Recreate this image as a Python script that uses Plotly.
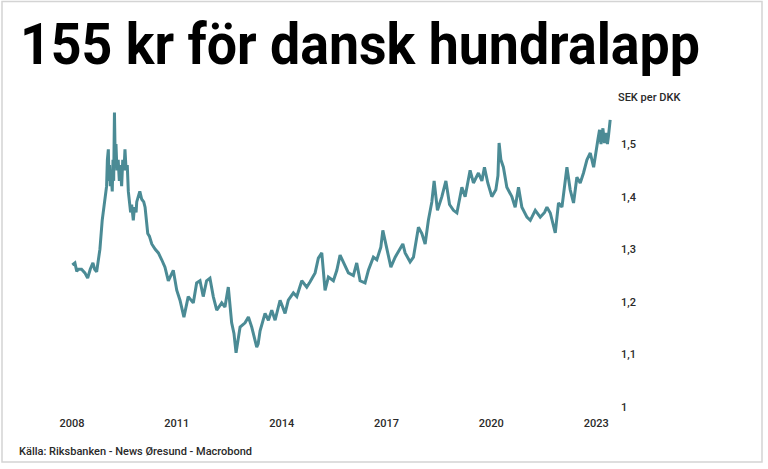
import plotly.graph_objects as go

dates = [
    "2008-01-05", "2008-02-01", "2008-02-20", "2008-03-06", "2008-04-10", "2008-05-15", "2008-06-13",
    "2008-07-10", "2008-08-07", "2008-08-25", "2008-09-15", "2008-10-19", "2008-11-12",
    "2008-12-10", "2008-12-28",
    "2009-01-05", "2009-01-15", "2009-01-22", "2009-01-28", "2009-02-05", "2009-02-15",
    "2009-02-25", "2009-03-05", "2009-03-12", "2009-03-20", "2009-03-28", "2009-04-05",
    "2009-04-15", "2009-04-28", "2009-05-10", "2009-05-20", "2009-06-03", "2009-06-15",
    "2009-06-28", "2009-07-08", "2009-07-20", "2009-08-01", "2009-08-12", "2009-08-25",
    "2009-09-05", "2009-09-16", "2009-10-03", "2009-10-15", "2009-11-01", "2009-11-08",
    "2009-11-25", "2009-12-10", "2009-12-30", "2010-01-20", "2010-02-03", "2010-02-20",
    "2010-03-03", "2010-03-20", "2010-04-14",
    "2010-05-20", "2010-06-22", "2010-07-27", "2010-08-30", "2010-10-04", "2010-11-25",
    "2010-12-31", "2011-02-03", "2011-03-16", "2011-04-30", "2011-06-22", "2011-07-27",
    "2011-08-31", "2011-10-04", "2011-11-08", "2011-12-13", "2012-01-17", "2012-02-22",
    "2012-04-14", "2012-05-18", "2012-06-22", "2012-07-27", "2012-08-20", "2012-09-11",
    "2012-10-23", "2012-12-14", "2013-01-18", "2013-02-22", "2013-04-15", "2013-04-30",
    "2013-05-20", "2013-07-11", "2013-08-15", "2013-09-19", "2013-10-24", "2013-12-15",
    "2014-02-05", "2014-03-11", "2014-05-03", "2014-06-08", "2014-07-30", "2014-09-20",
    "2014-10-25", "2014-12-16", "2015-01-19", "2015-02-24", "2015-03-30", "2015-05-04",
    "2015-06-25", "2015-07-31", "2015-09-03", "2015-10-08", "2015-11-29", "2016-01-20",
    "2016-02-24", "2016-03-30", "2016-05-21", "2016-06-25", "2016-08-16", "2016-09-21",
    "2016-11-02", "2016-11-23", "2017-01-04", "2017-02-15", "2017-04-01", "2017-05-15",
    "2017-06-20", "2017-07-14", "2017-09-04", "2017-10-09", "2017-11-30", "2018-01-05",
    "2018-02-08", "2018-03-14", "2018-04-19", "2018-05-13", "2018-06-17", "2018-08-02",
    "2018-09-13", "2018-10-21", "2018-12-01", "2019-01-06", "2019-02-27", "2019-04-02",
    "2019-05-24", "2019-06-28", "2019-08-19", "2019-09-24", "2019-10-21", "2019-11-25",
    "2020-01-06", "2020-02-17", "2020-03-10", "2020-03-22", "2020-04-10", "2020-05-06",
    "2020-06-11", "2020-08-02", "2020-09-06", "2020-10-11", "2020-11-15", "2021-01-07",
    "2021-02-11", "2021-04-04", "2021-05-26", "2021-07-10", "2021-08-04", "2021-09-08",
    "2021-10-30", "2021-12-03", "2022-01-08", "2022-03-01", "2022-04-04", "2022-05-09",
    "2022-06-13", "2022-07-18", "2022-08-21", "2022-09-26", "2022-10-31", "2022-12-05",
    "2023-01-01", "2023-01-20", "2023-02-05", "2023-02-20", "2023-03-12", "2023-03-28",
    "2023-04-15", "2023-04-28", "2023-05-09", "2023-05-27",
]

sek_per_dkk = [
    1.270, 1.274, 1.258, 1.262, 1.262, 1.255, 1.245,
    1.262, 1.274, 1.262, 1.257, 1.300, 1.355,
    1.390, 1.420,
    1.470, 1.490, 1.430, 1.460, 1.420, 1.440,
    1.410, 1.470, 1.430, 1.560, 1.470, 1.500,
    1.450, 1.470, 1.430, 1.460, 1.420, 1.470,
    1.450, 1.490, 1.450, 1.460, 1.410, 1.390,
    1.370, 1.385, 1.355, 1.380, 1.370, 1.390,
    1.400, 1.410, 1.395, 1.390, 1.380, 1.350,
    1.330, 1.325, 1.310,
    1.300, 1.293, 1.280, 1.266, 1.240, 1.260,
    1.222, 1.203, 1.171, 1.210, 1.198, 1.236,
    1.240, 1.210, 1.240, 1.245, 1.210, 1.184,
    1.198, 1.190, 1.228, 1.160, 1.140, 1.103,
    1.152, 1.160, 1.171, 1.152, 1.114, 1.120,
    1.145, 1.178, 1.165, 1.184, 1.165, 1.203,
    1.178, 1.203, 1.217, 1.210, 1.240, 1.228,
    1.238, 1.255, 1.283, 1.293, 1.222, 1.247,
    1.240, 1.260, 1.289, 1.274, 1.255, 1.250,
    1.274, 1.240, 1.236, 1.260, 1.285, 1.280,
    1.304, 1.336, 1.304, 1.266, 1.285, 1.298,
    1.310, 1.293, 1.276, 1.285, 1.342, 1.330,
    1.310, 1.355, 1.390, 1.430, 1.374, 1.400,
    1.430, 1.385, 1.374, 1.369, 1.418, 1.400,
    1.450, 1.426, 1.445, 1.430, 1.456, 1.426,
    1.400, 1.413, 1.440, 1.502, 1.470, 1.456,
    1.418, 1.400, 1.380, 1.418, 1.380, 1.361,
    1.355, 1.374, 1.361, 1.370, 1.380, 1.369,
    1.331, 1.388, 1.380, 1.456, 1.413, 1.388,
    1.437, 1.426, 1.445, 1.470, 1.483, 1.456,
    1.494, 1.510, 1.527, 1.500, 1.530, 1.502,
    1.521, 1.500, 1.515, 1.546,
]

y_tickvals = [1.0, 1.1, 1.2, 1.3, 1.4, 1.5]
y_ticktext = ["1", "1,1", "1,2", "1,3", "1,4", "1,5"]

title_text = "155 kr för dansk hundralapp"
unit_text = "SEK per DKK"
source_text = "Källa: Riksbanken - News Øresund - Macrobond"

LINE = "#4b8b95"
TXT = "#2a2a2a"
FONT = "Roboto, sans-serif"

W, H = 768, 469
ML, MR, MT, MB = 69, 156, 102, 62
PW, PH = W - ML - MR, H - MT - MB


def px_to_paper_x(px):
    return (px - ML) / PW


def py_to_paper_y(py):
    return (H - MB - py) / PH


fig = go.Figure()
fig.add_trace(go.Scatter(
    x=dates, y=sek_per_dkk, mode="lines",
    line=dict(color=LINE, width=3),
    hoverinfo="skip", showlegend=False,
))

fig.update_layout(
    width=W, height=H,
    margin=dict(l=ML, r=MR, t=MT, b=MB),
    paper_bgcolor="white", plot_bgcolor="white",
    font=dict(family=FONT, size=12, color=TXT),
    title=dict(
        text=title_text,
        x=20 / W, xanchor="left", xref="container",
        y=1 - 44 / H, yanchor="middle", yref="container",
        font=dict(family=FONT, size=58, color="#000000", weight=700),
    ),
    xaxis=dict(
        type="date",
        range=["2007-12-01", "2023-06-15"],
        tick0="2008-01-01", dtick="M36", tickformat="%Y",
        showgrid=False, zeroline=False, showline=False, ticks="",
        tickfont=dict(family=FONT, size=11, color=TXT, weight=500),
        ticklabelstandoff=8,
    ),
    yaxis=dict(
        side="right",
        range=[1.0, 1.58],
        tickvals=y_tickvals, ticktext=y_ticktext,
        showgrid=False, zeroline=False, showline=False, ticks="",
        tickfont=dict(family=FONT, size=11, color=TXT, weight=500),
        ticklabelstandoff=8,
    ),
)

fig.add_annotation(
    text=unit_text, xref="paper", yref="paper",
    x=px_to_paper_x(616), y=py_to_paper_y(98), xanchor="left", yanchor="middle",
    showarrow=False, font=dict(family=FONT, size=11, color=TXT, weight=500),
)
fig.add_annotation(
    text=source_text, xref="paper", yref="paper",
    x=px_to_paper_x(17), y=py_to_paper_y(451), xanchor="left", yanchor="middle",
    showarrow=False, font=dict(family=FONT, size=11, color=TXT, weight=500),
)

fig.add_shape(
    type="rect", xref="paper", yref="paper",
    x0=px_to_paper_x(2), x1=px_to_paper_x(762),
    y0=py_to_paper_y(462), y1=py_to_paper_y(1.5),
    line=dict(color="#d4d4d4", width=1.5), fillcolor="rgba(0,0,0,0)", layer="below",
)

post_js = """
document.body.style.margin = '0';
var gd = document.getElementById('{plot_id}');
function squeeze() {
  var t = gd.querySelector('.gtitle');
  if (t) { t.setAttribute('textLength', '680'); t.setAttribute('lengthAdjust', 'spacingAndGlyphs'); }
  var anns = gd.querySelectorAll('.annotation-text');
  anns.forEach(function (a) {
    if (a.textContent.indexOf('Källa') === 0) {
      a.setAttribute('textLength', '233'); a.setAttribute('lengthAdjust', 'spacingAndGlyphs');
    }
  });
}
squeeze();
if (gd.on) { gd.on('plotly_afterplot', squeeze); }
"""

fig.write_html("out.html", post_script=post_js, config={"displayModeBar": False})
